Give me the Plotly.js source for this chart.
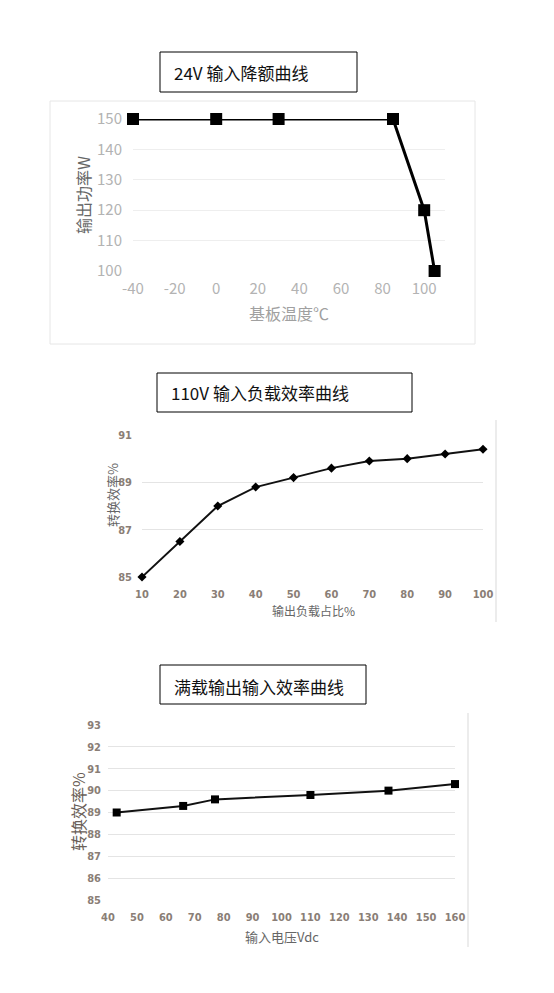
<!DOCTYPE html>
<html>
<head>
<meta charset="utf-8">
<script src="https://cdn.plot.ly/plotly-3.0.1.min.js"></script>
<style>html,body{margin:0;padding:0;background:#fff}#chart{width:554px;height:993px}</style>
</head>
<body>
<div id="chart"></div>
<script>
// 24V 输入降额曲线
var tempC = [-40, 0, 30, 85, 100, 105];
var powerW = [150, 150, 150, 150, 120, 100];
var tempTicks = [-40, -20, 0, 20, 40, 60, 80, 100];
var tempTickText = ['-40', '-20', '0', '20', '40', '60', '80', '100'];

// 110V 输入负载效率曲线
var loadPct = [10, 20, 30, 40, 50, 60, 70, 80, 90, 100];
var effLoad = [85.0, 86.5, 88.0, 88.8, 89.2, 89.6, 89.9, 90.0, 90.2, 90.4];

// 满载输出输入效率曲线
var vinVdc = [43, 66, 77, 110, 137, 160];
var effVin = [89.0, 89.3, 89.6, 89.8, 90.0, 90.3];

var W = 554, H = 993;
function fx(p) { return p / W; }
function fy(p) { return 1 - p / H; }

var cjk = '"Noto Sans CJK SC", "Noto Sans", sans-serif';
var narrow = '"Liberation Sans Narrow", "DejaVu Sans Condensed", sans-serif';

var data = [{
    x: tempC, y: powerW, type: 'scatter', mode: 'lines+markers',
    line: {color: '#000', width: 3},
    marker: {symbol: 'square', size: 12, color: '#000'},
    cliponaxis: false, xaxis: 'x', yaxis: 'y'
  }, {
    x: loadPct, y: effLoad, type: 'scatter', mode: 'lines+markers',
    line: {color: '#111', width: 2},
    marker: {symbol: 'diamond', size: 7, color: '#000'},
    cliponaxis: false, xaxis: 'x2', yaxis: 'y2'
  }, {
    x: vinVdc, y: effVin, type: 'scatter', mode: 'lines+markers',
    line: {color: '#111', width: 2},
    marker: {symbol: 'square', size: 8, color: '#000'},
    cliponaxis: false, xaxis: 'x3', yaxis: 'y3'
  }];

var grid = '#e4e4e4';
var tick1 = {family: cjk, size: 15, color: '#b3b3b3'};
var tick23 = {family: narrow, size: 11, color: '#8a7e76', weight: 'bold'};
var layout = {
  width: W, height: H, showlegend: false,
  margin: {l: 0, r: 0, t: 0, b: 0},
  paper_bgcolor: '#fff', plot_bgcolor: '#fff',
  xaxis: {domain: [fx(133), fx(445)], range: [-40, 110],
    tickmode: 'array', tickvals: tempTicks, ticktext: tempTickText,
    showgrid: false, zeroline: false, showline: false, ticks: '',
    ticklabelstandoff: 7, tickfont: tick1, anchor: 'y'},
  yaxis: {domain: [fy(271), fy(119)], range: [100, 150], dtick: 10,
    gridcolor: '#eeeeee', zeroline: false, showline: false, ticks: '',
    ticklabelstandoff: 10, tickfont: tick1, anchor: 'x'},
  xaxis2: {domain: [fx(142), fx(483)], range: [10, 100], dtick: 10, tick0: 10,
    showgrid: false, zeroline: false, showline: false, ticks: '',
    ticklabelstandoff: 9, tickfont: tick23, anchor: 'y2'},
  yaxis2: {domain: [fy(577), fy(435)], range: [85, 91], dtick: 2, tick0: 85,
    gridcolor: grid, zeroline: false, showline: false, ticks: '',
    ticklabelstandoff: 9, tickfont: tick23, anchor: 'x2'},
  xaxis3: {domain: [fx(108), fx(455)], range: [40, 160], dtick: 10, tick0: 40,
    showgrid: false, zeroline: false, showline: false, ticks: '',
    ticklabelstandoff: 9, tickfont: tick23, anchor: 'y3'},
  yaxis3: {domain: [fy(900), fy(725)], range: [85, 93], dtick: 1,
    gridcolor: grid, zeroline: false, showline: false, ticks: '',
    ticklabelstandoff: 6, tickfont: tick23, anchor: 'x3'},
  shapes: [
    // chart frame 1
    {type: 'rect', xref: 'paper', yref: 'paper', x0: fx(50), x1: fx(475), y0: fy(344), y1: fy(101),
      line: {color: '#e6e6e6', width: 1}},
    // title boxes
    {type: 'rect', xref: 'paper', yref: 'paper', x0: fx(160), x1: fx(357), y0: fy(92), y1: fy(52),
      line: {color: '#000', width: 1}},
    {type: 'rect', xref: 'paper', yref: 'paper', x0: fx(157), x1: fx(412), y0: fy(412), y1: fy(373),
      line: {color: '#000', width: 1}},
    {type: 'rect', xref: 'paper', yref: 'paper', x0: fx(160), x1: fx(366), y0: fy(704), y1: fy(665),
      line: {color: '#000', width: 1}},
    // right border edges of the cropped charts
    {type: 'line', xref: 'paper', yref: 'paper', x0: fx(496), x1: fx(496), y0: fy(622), y1: fy(420),
      line: {color: '#d9d9d9', width: 1}},
    {type: 'line', xref: 'paper', yref: 'paper', x0: fx(468), x1: fx(468), y0: fy(947), y1: fy(713),
      line: {color: '#d9d9d9', width: 1}}
  ],
  annotations: [
    {text: '24V 输入降额曲线', xref: 'paper', yref: 'paper', x: fx(172), y: fy(72),
      xanchor: 'left', yanchor: 'middle', showarrow: false, font: {family: cjk, size: 17, color: '#111'}},
    {text: '110V 输入负载效率曲线', xref: 'paper', yref: 'paper', x: fx(169), y: fy(393),
      xanchor: 'left', yanchor: 'middle', showarrow: false, font: {family: cjk, size: 17, color: '#111'}},
    {text: '满载输出输入效率曲线', xref: 'paper', yref: 'paper', x: fx(172), y: fy(686),
      xanchor: 'left', yanchor: 'middle', showarrow: false, font: {family: cjk, size: 17, color: '#111'}},

    {text: '输出功率W', xref: 'paper', yref: 'paper', x: fx(83), y: fy(195), textangle: -90,
      xanchor: 'center', yanchor: 'middle', showarrow: false, font: {family: cjk, size: 16, color: '#666'}},
    {text: '基板温度℃', xref: 'paper', yref: 'paper', x: fx(289), y: fy(313),
      xanchor: 'center', yanchor: 'middle', showarrow: false, font: {family: cjk, size: 16, color: '#a0a0a0'}},

    {text: '转换效率%', xref: 'paper', yref: 'paper', x: fx(113), y: fy(495), textangle: -90,
      xanchor: 'center', yanchor: 'middle', showarrow: false, font: {family: cjk, size: 13, color: '#666'}},
    {text: '输出负载占比%', xref: 'paper', yref: 'paper', x: fx(313), y: fy(610),
      xanchor: 'center', yanchor: 'middle', showarrow: false, font: {family: cjk, size: 12, color: '#666'}},

    {text: '转换效率%', xref: 'paper', yref: 'paper', x: fx(78), y: fy(812), textangle: -90,
      xanchor: 'center', yanchor: 'middle', showarrow: false, font: {family: cjk, size: 16, color: '#6b5f58'}},
    {text: '输入电压Vdc', xref: 'paper', yref: 'paper', x: fx(282), y: fy(936),
      xanchor: 'center', yanchor: 'middle', showarrow: false, font: {family: cjk, size: 13, color: '#666'}}
  ]
};

Plotly.newPlot('chart', data, layout, {staticPlot: true, displayModeBar: false});
</script>
</body>
</html>
